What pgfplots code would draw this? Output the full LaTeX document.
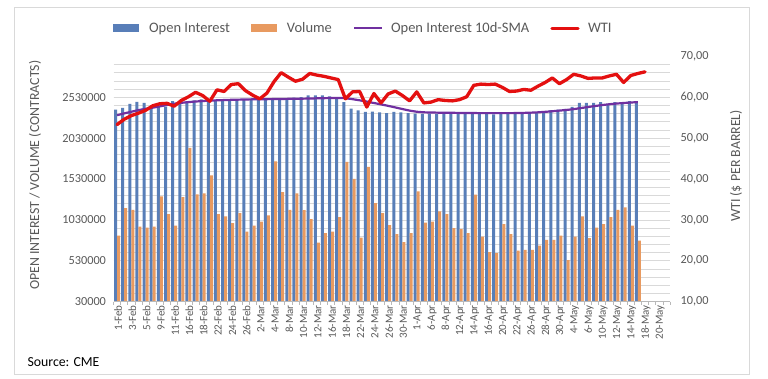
\documentclass[border=0pt]{standalone}
\usepackage{pgfplots}
\usepackage{pgfplotstable}
\pgfplotsset{compat=1.18}
\usepackage{fontspec}
\setmainfont{Carlito}
\definecolor{oiblue}{RGB}{88,126,184}
\definecolor{volorange}{RGB}{232,154,96}
\definecolor{smapurple}{RGB}{112,48,160}
\definecolor{wtired}{RGB}{228,16,16}
\definecolor{txtgray}{RGB}{89,89,89}
\definecolor{gridgray}{RGB}{217,217,217}

\pgfplotstableread{
x oi vol sma
0 2379000 839000 2310000
1 2400000 1175000 2332000
2 2449000 1154000 2352000
3 2474000 949000 2372000
4 2461000 937000 2388000
5 2420000 949000 2402000
6 2410000 1317000 2418000
7 2415000 1101000 2435000
8 2481000 961000 2450000
9 2460000 1309000 2461000
10 2480000 1910000 2470000
11 2490000 1341000 2477000
12 2502000 1353000 2483000
13 2500000 1574000 2488000
14 2495000 1101000 2492000
15 2505000 1072000 2495000
16 2495000 991000 2498000
17 2500000 1113000 2500000
18 2505000 888000 2502000
19 2510000 961000 2504000
20 2500000 1010000 2505000
21 2505000 1084000 2506000
22 2515000 1746000 2507000
23 2510000 1371000 2508000
24 2520000 1154000 2510000
25 2525000 1353000 2511000
26 2530000 1150000 2512000
27 2551000 1040000 2514000
28 2551000 753000 2516000
29 2551000 868000 2518000
30 2540000 888000 2520000
31 2520000 1064000 2521000
32 2470000 1738000 2518000
33 2390000 1530000 2506000
34 2370000 814000 2492000
35 2350000 1677000 2476000
36 2355000 1236000 2459000
37 2345000 1113000 2442000
38 2335000 966000 2424000
39 2350000 856000 2405000
40 2345000 758000 2385000
41 2335000 868000 2366000
42 2330000 1378000 2352000
43 2325000 998000 2345000
44 2328000 1010000 2343000
45 2325000 1133000 2341000
46 2322000 1101000 2340000
47 2325000 930000 2339000
48 2328000 917000 2338000
49 2325000 868000 2337000
50 2322000 1338000 2336000
51 2325000 827000 2335000
52 2325000 635000 2335000
53 2320000 623000 2335000
54 2325000 979000 2335000
55 2322000 856000 2335000
56 2325000 655000 2336000
57 2330000 664000 2338000
58 2339000 664000 2341000
59 2346000 716000 2345000
60 2358000 786000 2351000
61 2371000 786000 2358000
62 2379000 839000 2366000
63 2388000 537000 2374000
64 2412000 827000 2384000
65 2461000 1072000 2397000
66 2461000 807000 2410000
67 2461000 937000 2422000
68 2470000 979000 2434000
69 2449000 1064000 2444000
70 2470000 1154000 2452000
71 2461000 1182000 2459000
72 2481000 961000 2465000
73 2474000 778000 2470000
}\oidata

\pgfplotstableread{
x wti
0 53.3
1 54.6
2 55.5
3 56.1
4 56.8
5 57.9
6 58.4
7 58.5
8 57.8
9 59.2
10 60.1
11 61.2
12 60.4
13 59.0
14 61.8
15 61.4
16 63.1
17 63.3
18 61.6
19 60.5
20 59.6
21 61.0
22 63.8
23 66.0
24 64.9
25 63.9
26 64.4
27 65.8
28 65.4
29 65.1
30 64.7
31 64.3
32 59.6
33 61.3
34 61.4
35 57.6
36 60.9
37 58.6
38 60.8
39 61.5
40 60.4
41 59.1
42 61.3
43 58.6
44 58.8
45 59.4
46 59.2
47 59.1
48 59.4
49 60.1
50 62.9
51 63.2
52 63.1
53 63.2
54 62.4
55 61.4
56 61.5
57 61.9
58 61.7
59 62.7
60 63.6
61 64.7
62 63.3
63 64.3
64 65.6
65 65.2
66 64.6
67 64.7
68 64.7
69 65.2
70 65.6
71 63.6
72 65.3
73 65.8
74 66.2
}\wtidata

\begin{document}
\begin{tikzpicture}
\path[use as bounding box, fill=white] (0,0) rectangle (768pt,379pt);
\draw[gray!30, line width=0.8pt] (14pt,5pt) rectangle (749pt,372pt);
\node[anchor=west, font=\fontsize{13.8}{15}\selectfont, text=black] at (24pt,17.3pt) {Source: CME};
\begin{axis}[
  at={(113.5pt,77.3pt)}, anchor=south west,
  scale only axis, width=556.5pt, height=245.4pt,
  xmin=-0.5, xmax=77.5, ymin=30000, ymax=3030000,
  scaled y ticks=false,
  axis line style={draw=none},
  xtick={0,2,...,76},
  xticklabels={1-Feb,3-Feb,5-Feb,9-Feb,11-Feb,16-Feb,18-Feb,22-Feb,24-Feb,26-Feb,2-Mar,4-Mar,8-Mar,10-Mar,12-Mar,16-Mar,18-Mar,22-Mar,24-Mar,26-Mar,30-Mar,1-Apr,6-Apr,8-Apr,12-Apr,14-Apr,16-Apr,20-Apr,22-Apr,26-Apr,28-Apr,30-Apr,4-May,6-May,10-May,12-May,14-May,18-May,20-May},
  xticklabel pos=lower,
  ytick={30000,530000,...,2530000},
  yticklabels={30000,530000,1030000,1530000,2030000,2530000},
  yticklabel pos=left,
  minor ytick={130000,230000,...,2930000},
  ymajorgrids, yminorgrids,
  major grid style={gridgray, line width=0.6pt},
  minor grid style={gridgray, line width=0.6pt},
  major tick length=0pt, minor tick length=0pt,
  tick style={draw=none},
  xticklabel style={rotate=90, anchor=east, font=\fontsize{11}{12}\selectfont, text=txtgray, yshift=-1pt},
  yticklabel style={font=\fontsize{12.3}{13}\selectfont, text=txtgray, xshift=-4pt},
  ylabel={OPEN INTEREST / VOLUME (CONTRACTS)},
  ylabel style={at={(axis description cs:-0.141,0.515)}, anchor=center, font=\fontsize{13.85}{15}\selectfont, text=txtgray},
  legend style={at={(axis description cs:0.449,1.114)}, anchor=center, draw=none, fill=none,
    font=\fontsize{14.5}{16}\selectfont, text=txtgray,
    /tikz/every even column/.append style={column sep=19pt}},
  legend columns=4,
  legend cell align=left,
  extra description/.code={
    \draw[gray!55, line width=0.6pt] (rel axis cs:0,0) -- (rel axis cs:1,0);
    \foreach \k in {0,...,78} {\draw[gray!55, line width=0.6pt] (rel axis cs:\k/78,0) -- ++(0pt,-3pt);}
  },
]
\addlegendimage{legend image code/.code={\fill[oiblue, draw=none] (0pt,-4pt) rectangle (26pt,4pt); \path[draw=none, fill=none] (0pt,0pt) -- (34pt,0pt);}}
\addlegendentry{Open Interest}
\addlegendimage{legend image code/.code={\fill[volorange, draw=none] (0pt,-4pt) rectangle (26pt,4pt); \path[draw=none, fill=none] (0pt,0pt) -- (34pt,0pt);}}
\addlegendentry{Volume}
\addlegendimage{legend image code/.code={\draw[smapurple, line width=2.2pt] (0pt,0pt) -- (28pt,0pt); \path[draw=none, fill=none] (0pt,0pt) -- (35pt,0pt);}}
\addlegendentry{Open Interest 10d-SMA}
\addlegendimage{legend image code/.code={\draw[wtired, line width=3.3pt, line cap=round] (1pt,0pt) -- (27pt,0pt); \path[draw=none, fill=none] (0pt,0pt) -- (35pt,0pt);}}
\addlegendentry{WTI}
\addplot[ybar, bar width=0.42, bar shift=-0.21, fill=oiblue, draw=none, forget plot] table[x=x,y=oi]{\oidata};
\addplot[ybar, bar width=0.42, bar shift=0.21, fill=volorange, draw=none, forget plot] table[x=x,y=vol]{\oidata};
\addplot[smapurple, line width=2.2pt, no marks, line join=round, forget plot] table[x=x,y=sma]{\oidata};
\end{axis}
\begin{axis}[
  at={(113.5pt,77.3pt)}, anchor=south west,
  scale only axis, width=556.5pt, height=245.4pt,
  xmin=-0.5, xmax=77.5, ymin=10, ymax=70,
  axis line style={draw=none},
  xtick=\empty,
  ytick={10,20,...,70},
  yticklabel pos=right,
  yticklabels={{10,00},{20,00},{30,00},{40,00},{50,00},{60,00},{70,00}},
  major tick length=0pt,
  tick style={draw=none},
  yticklabel style={font=\fontsize{12.3}{13}\selectfont, text=txtgray, xshift=7pt},
  ylabel={WTI (\$ PER BARREL)},
  ylabel style={at={(axis description cs:1.1186,0.553)}, anchor=center, font=\fontsize{13.85}{15}\selectfont, text=txtgray},
]
\addplot[wtired, line width=3.3pt, no marks, line join=round, line cap=round] table[x=x,y=wti]{\wtidata};
\end{axis}
\fill[white] (100pt,323.4pt) rectangle (672pt,338pt);
\end{tikzpicture}
\end{document}
